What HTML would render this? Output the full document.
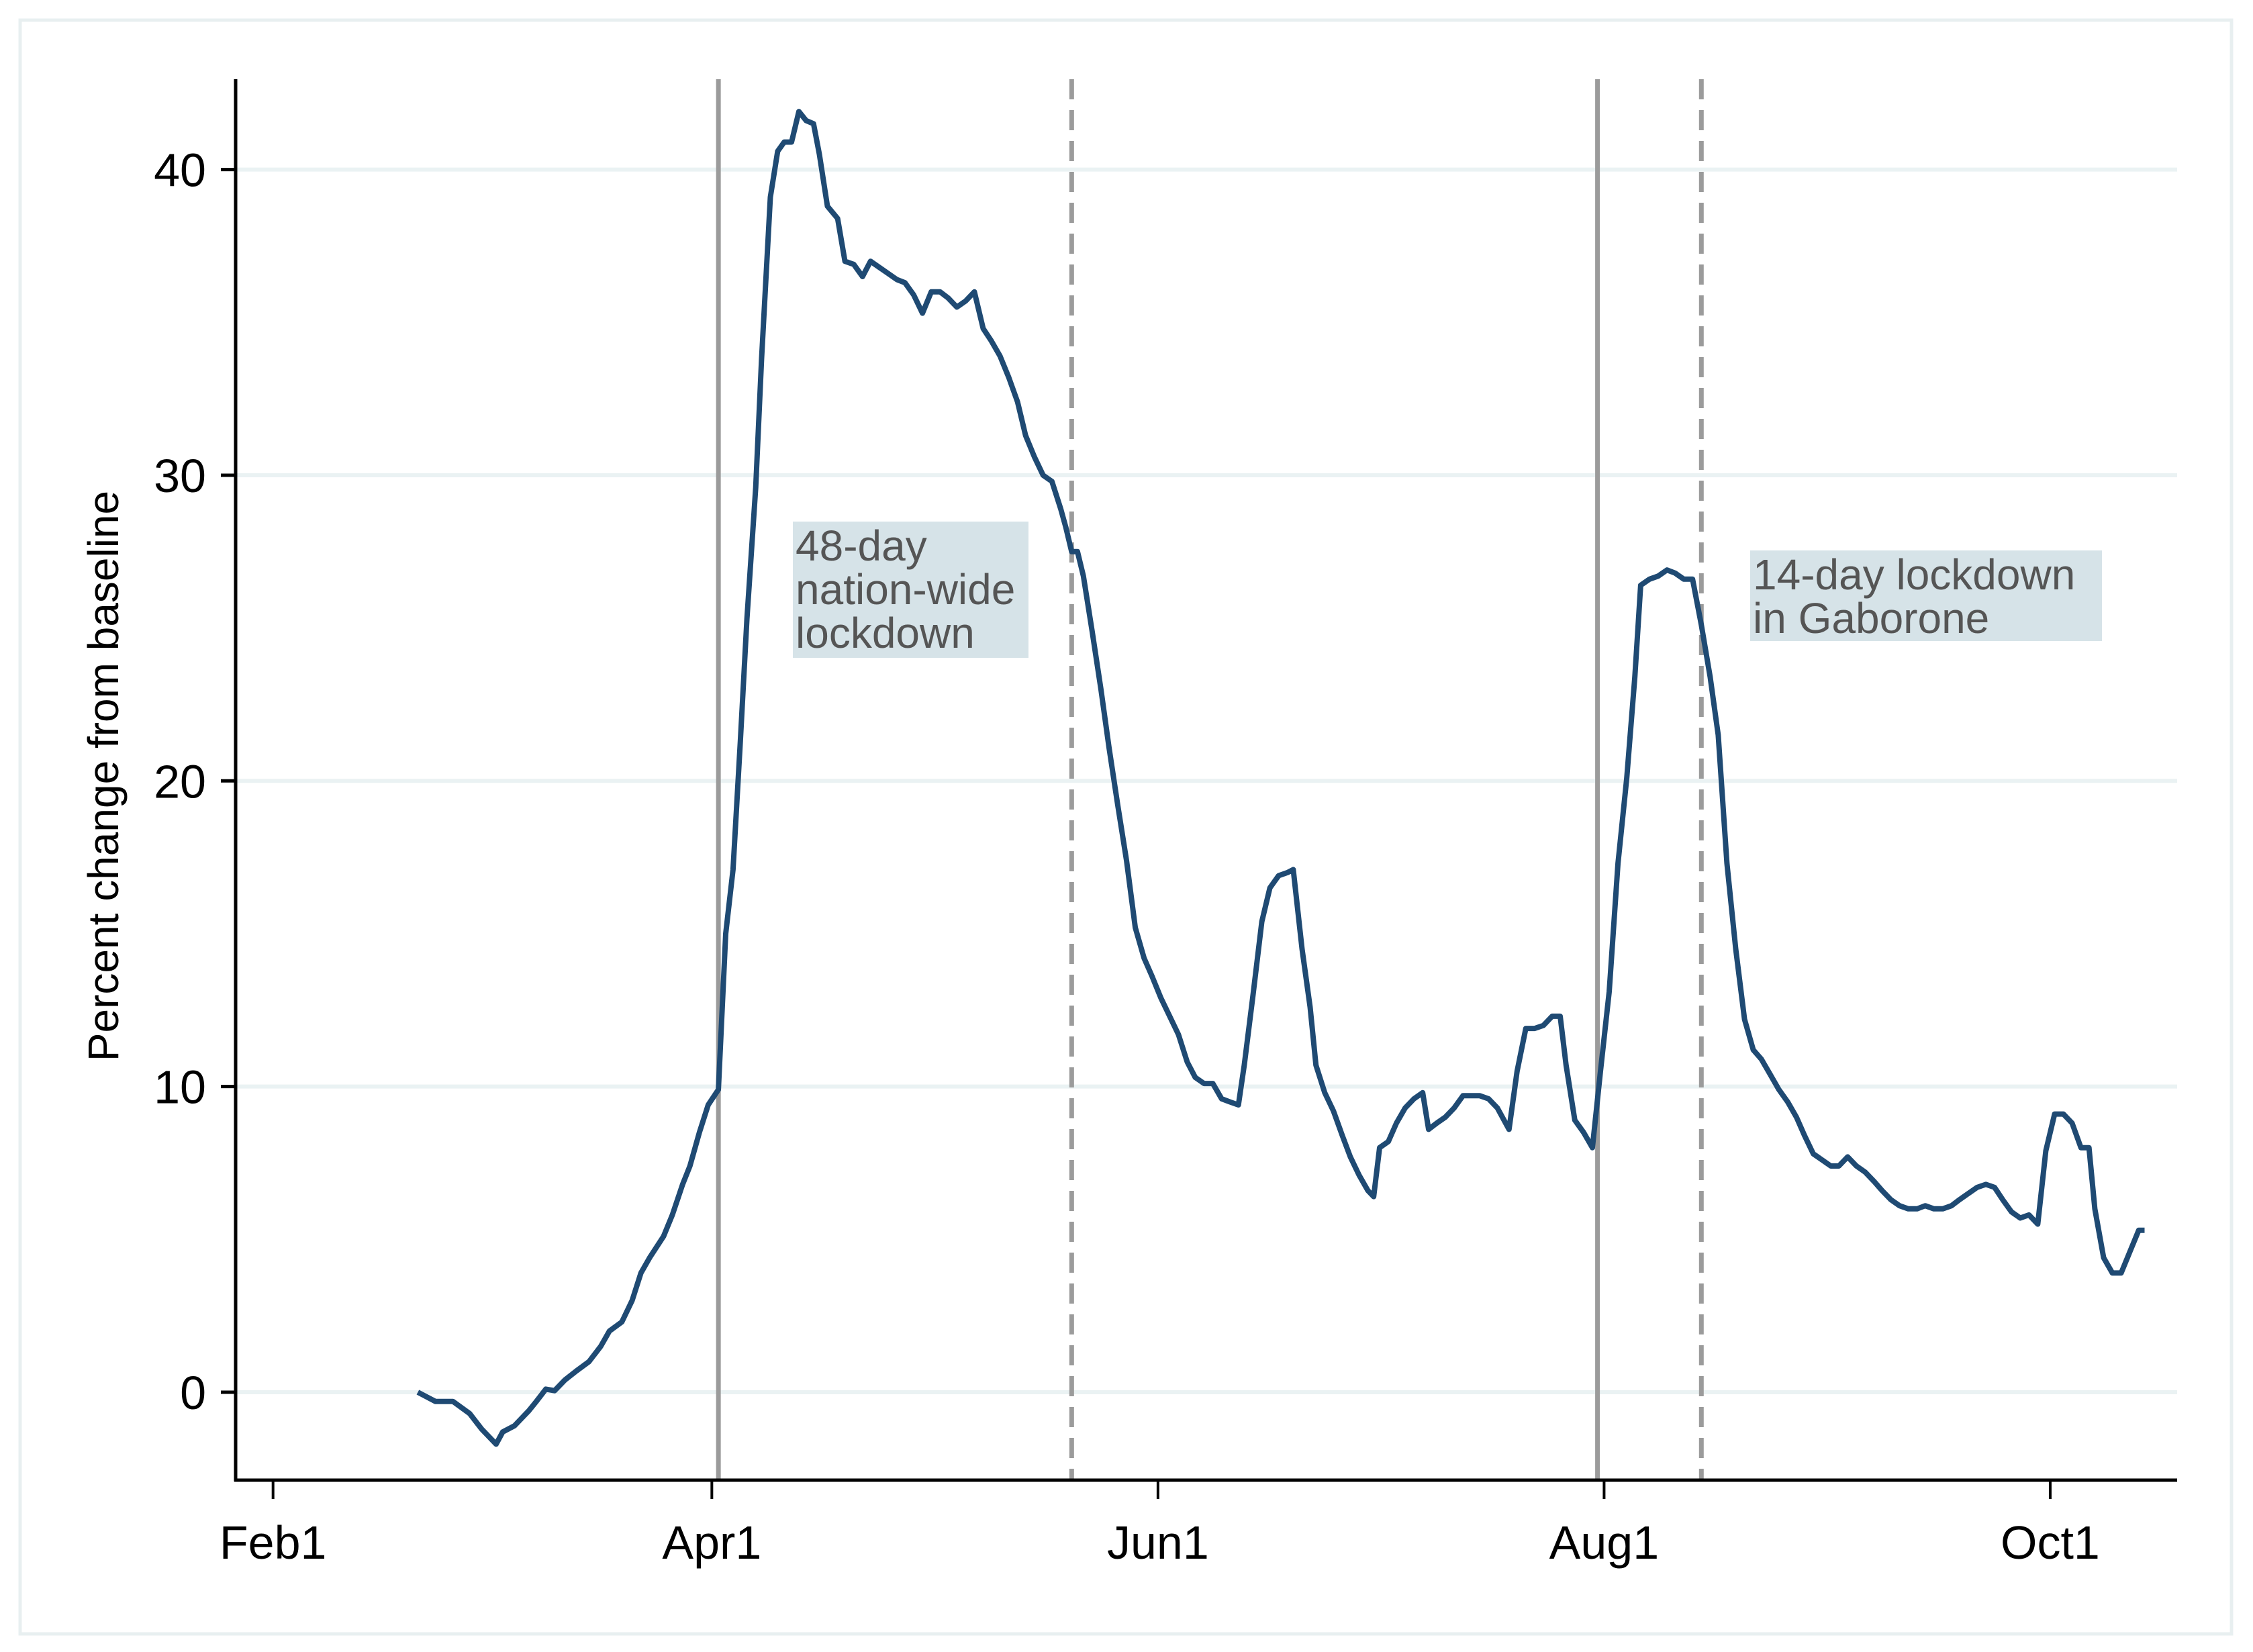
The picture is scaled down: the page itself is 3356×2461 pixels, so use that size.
<!DOCTYPE html>
<html><head><meta charset="utf-8">
<style>
html,body{margin:0;padding:0;background:#fff;}
svg{display:block;font-family:"Liberation Sans",Arial,sans-serif;}
</style></head>
<body>
<svg id="chart" width="3356" height="2461" viewBox="0 0 3356 2461" xmlns="http://www.w3.org/2000/svg">
<rect x="30" y="30" width="3294" height="2404" fill="#fff" stroke="#e8eff0" stroke-width="5"/>
<g id="grid"></g>
<g id="vlines"></g>
<g id="ann"></g>
<g id="series"></g>
<g id="axes"></g>
<text x="176" y="1156" font-size="64" text-anchor="middle" transform="rotate(-90 176 1156)" fill="#000">Percent change from baseline</text>
</svg>
<script>
// days since Feb 1, 2020
const days = [19.8,22.2,24.6,26.9,28.5,30.5,31.4,33.0,35.0,36.0,37.3,38.5,39.9,41.5,43.2,44.8,46.0,47.7,49.1,50.3,51.5,53.4,54.6,56.0,57.0,58.3,59.5,60.9,61.9,62.9,63.9,64.8,66.0,66.8,68.0,69.0,69.9,70.9,71.9,72.9,73.9,74.7,75.8,77.2,78.2,79.4,80.6,81.7,82.9,84.1,85.3,86.4,87.6,88.8,90.0,91.2,92.3,93.5,94.7,95.9,97.1,98.2,99.4,100.6,101.8,102.9,104.1,105.3,106.5,107.7,108.4,109.2,110.0,110.8,112.0,113.2,114.3,115.5,116.7,117.9,119.1,120.2,121.4,122.6,123.8,125.0,126.1,127.3,128.5,129.7,130.8,132.0,132.8,134.0,135.2,136.3,137.5,138.7,139.5,140.7,141.8,142.6,143.8,145.0,146.2,147.3,148.5,149.7,150.5,151.3,152.5,153.6,154.8,156.0,157.2,158.0,159.1,160.3,161.5,162.7,163.9,165.0,166.2,167.4,169.0,170.1,171.3,172.5,173.7,174.9,176.0,176.8,178.0,179.2,180.4,181.5,182.7,183.9,185.1,186.2,187.0,188.2,189.4,190.6,191.7,192.9,194.1,195.3,196.5,197.6,198.8,200.0,201.2,202.4,203.5,204.7,205.9,207.1,208.3,209.4,210.6,211.8,213.0,214.1,215.3,216.5,217.7,218.9,220.0,221.2,222.4,223.6,224.8,225.9,227.1,228.3,229.5,230.6,231.8,233.0,234.2,235.4,236.5,237.7,238.9,240.1,241.3,242.4,243.6,244.8,246.0,247.2,248.3,249.1,250.3,251.5,252.7,253.9,255.1,255.9];
const values = [0,-0.3,-0.3,-0.7,-1.2,-1.7,-1.3,-1.1,-0.6,-0.3,0.1,0.05,0.4,0.7,1.0,1.5,2.0,2.3,3.0,3.9,4.4,5.1,5.8,6.8,7.4,8.5,9.4,9.9,15.0,17.1,21.3,25.3,29.6,33.8,39.1,40.6,40.9,40.9,41.9,41.6,41.5,40.5,38.8,38.4,37.0,36.9,36.5,37.0,36.8,36.6,36.4,36.3,35.9,35.3,36.0,36.0,35.8,35.5,35.7,36.0,34.8,34.4,33.9,33.2,32.4,31.3,30.6,30.0,29.8,28.9,28.3,27.5,27.5,26.7,24.9,23.0,21.1,19.2,17.4,15.2,14.2,13.6,12.9,12.3,11.7,10.8,10.3,10.1,10.1,9.6,9.5,9.4,10.7,13.0,15.4,16.5,16.9,17.0,17.1,14.5,12.6,10.7,9.8,9.2,8.4,7.7,7.1,6.6,6.4,8.0,8.2,8.8,9.3,9.6,9.8,8.6,8.8,9.0,9.3,9.7,9.7,9.7,9.6,9.3,8.6,10.5,11.9,11.9,12.0,12.3,12.3,10.7,8.9,8.5,8.0,10.5,13.1,17.3,20.1,23.4,26.4,26.6,26.7,26.9,26.8,26.6,26.6,25.1,23.4,21.5,17.3,14.5,12.2,11.2,10.9,10.4,9.9,9.5,9.0,8.4,7.8,7.6,7.4,7.4,7.7,7.4,7.2,6.9,6.6,6.3,6.1,6.0,6.0,6.1,6.0,6.0,6.1,6.3,6.5,6.7,6.8,6.7,6.3,5.9,5.7,5.8,5.5,7.9,9.1,9.1,8.8,8.0,8.0,6.0,4.4,3.9,3.9,4.6,5.3,5.3];
const yTicks = [0,10,20,30,40];
const xTickDays = [0,60,121,182,243];
const xTickLabels = ["Feb1","Apr1","Jun1","Aug1","Oct1"];
const solidLineDays = [60.9,181.1];
const dashedLineDays = [109.2,195.3];

const NS="http://www.w3.org/2000/svg";
const X0=351,X1=3243,Y0=118,Y1=2205;
function xs(d){return 406.7+d*10.894;}
function ys(v){return 2074-v*45.535;}
function mk(tag,attrs,parent){const e=document.createElementNS(NS,tag);for(const k in attrs)e.setAttribute(k,attrs[k]);parent.appendChild(e);return e;}
const grid=document.getElementById('grid'),axes=document.getElementById('axes'),vl=document.getElementById('vlines'),ser=document.getElementById('series'),ann=document.getElementById('ann');

yTicks.forEach(t=>{
  const g=mk('line',{x1:X0,x2:X1,y1:ys(t),y2:ys(t),stroke:'#eaf2f3','stroke-width':6},grid);
  
  
  const tk=mk('line',{x1:X0-22,x2:X0,y1:ys(t),y2:ys(t),stroke:'#000','stroke-width':5},axes);
  
  
  const tx=mk('text',{x:X0-44,y:ys(t)+25,'font-size':70,'text-anchor':'end',fill:'#000'},axes);
  tx.textContent=t;
  
  
});
xTickDays.forEach((d,i)=>{
  const tk=mk('line',{x1:xs(d),x2:xs(d),y1:Y1,y2:Y1+28,stroke:'#000','stroke-width':4},axes);
  
  
  const tx=mk('text',{x:xs(d),y:2322,'font-size':70,'text-anchor':'middle',fill:'#000'},axes);
  tx.textContent=xTickLabels[i];
  
  
});
const ya=mk('line',{x1:X0,x2:X0,y1:Y0,y2:Y1+2,stroke:'#000','stroke-width':5},axes);


const xa=mk('line',{x1:X0-2,x2:X1,y1:Y1,y2:Y1,stroke:'#000','stroke-width':5},axes);



solidLineDays.forEach((d,i)=>{
  const l=mk('line',{x1:xs(d),x2:xs(d),y1:Y0,y2:Y1,stroke:'#9b9b9b','stroke-width':7},vl);
  
  
});
dashedLineDays.forEach((d,i)=>{
  const l=mk('line',{x1:xs(d),x2:xs(d),y1:Y0,y2:Y1,stroke:'#9b9b9b','stroke-width':7,'stroke-dasharray':'30 16'},vl);
  
  
});

function box(x,y,w,h,lines,name){
  const r=mk('rect',{x:x,y:y,width:w,height:h,fill:'#d6e3e8'},ann);
  
  
  lines.forEach((s,i)=>{
    const t=mk('text',{x:x+4,y:y+58+i*65,'font-size':64,fill:'#555'},ann);
    t.textContent=s;
    
    
  });
}
box(1181,777,351,203,["48-day","nation-wide","lockdown"],'nationwide-annotation');
box(2607,820,524,135,["14-day lockdown","in Gaborone"],'gaborone-annotation');

let dstr='';
days.forEach((d,i)=>{dstr+=(i?'L':'M')+xs(d).toFixed(1)+' '+ys(values[i]).toFixed(1);});
const p=mk('path',{d:dstr,fill:'none',stroke:'#1f4a73','stroke-width':8,'stroke-linejoin':'round'},ser);


</script>
</body></html>
